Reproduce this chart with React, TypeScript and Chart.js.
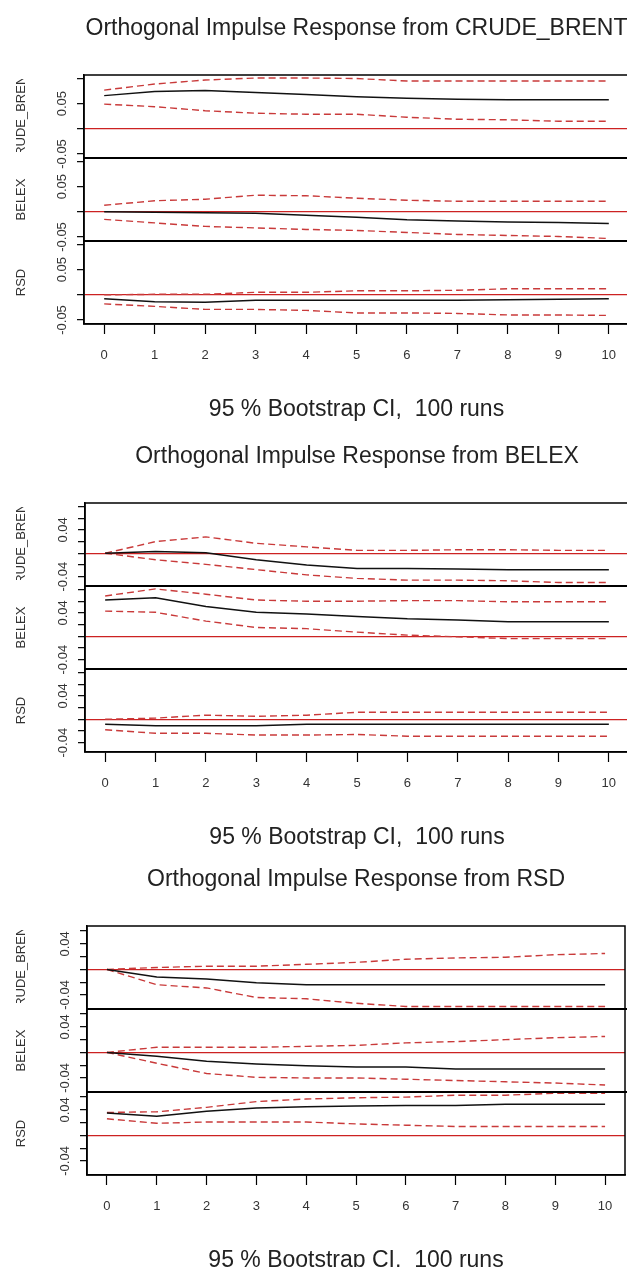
import React, { useEffect, useRef } from 'react';
import { Chart, registerables } from 'chart.js';

Chart.register(...registerables);

// ---------- data ----------
const horizons = [0, 1, 2, 3, 4, 5, 6, 7, 8, 9, 10];
const responseNames = ['CRUDE_BRENT', 'BELEX', 'RSD'];
const xTitle = '95 % Bootstrap CI,  100 runs';

// Panel 1: impulse from CRUDE_BRENT
const crudeFromCrudeIrf = [0.066, 0.074, 0.076, 0.072, 0.068, 0.064, 0.061, 0.059, 0.058, 0.058, 0.058];
const crudeFromCrudeLow = [0.049, 0.044, 0.036, 0.031, 0.029, 0.029, 0.023, 0.019, 0.018, 0.015, 0.015];
const crudeFromCrudeUp = [0.077, 0.089, 0.097, 0.101, 0.101, 0.1, 0.095, 0.095, 0.095, 0.095, 0.095];
const belexFromCrudeIrf = [0.0, -0.001, -0.002, -0.003, -0.007, -0.011, -0.016, -0.018, -0.02, -0.021, -0.023];
const belexFromCrudeLow = [-0.015, -0.022, -0.029, -0.032, -0.035, -0.037, -0.041, -0.045, -0.047, -0.049, -0.053];
const belexFromCrudeUp = [0.013, 0.022, 0.025, 0.033, 0.032, 0.027, 0.023, 0.021, 0.021, 0.021, 0.021];
const rsdFromCrudeIrf = [-0.008, -0.014, -0.015, -0.011, -0.011, -0.011, -0.011, -0.011, -0.01, -0.009, -0.008];
const rsdFromCrudeLow = [-0.018, -0.023, -0.029, -0.029, -0.031, -0.036, -0.036, -0.037, -0.04, -0.04, -0.041];
const rsdFromCrudeUp = [0.0, 0.001, 0.001, 0.005, 0.005, 0.008, 0.008, 0.009, 0.012, 0.012, 0.012];

// Panel 2: impulse from BELEX
const crudeFromBelexIrf = [0.0, 0.003, 0.001, -0.011, -0.02, -0.026, -0.026, -0.027, -0.028, -0.028, -0.028];
const crudeFromBelexLow = [0.0, -0.011, -0.019, -0.028, -0.037, -0.043, -0.046, -0.046, -0.047, -0.05, -0.05];
const crudeFromBelexUp = [0.0, 0.02, 0.028, 0.017, 0.011, 0.005, 0.005, 0.006, 0.006, 0.005, 0.005];
const belexFromBelexIrf = [0.062, 0.066, 0.051, 0.041, 0.038, 0.034, 0.03, 0.028, 0.025, 0.025, 0.025];
const belexFromBelexLow = [0.043, 0.041, 0.026, 0.015, 0.013, 0.007, 0.002, -0.001, -0.004, -0.004, -0.004];
const belexFromBelexUp = [0.069, 0.081, 0.072, 0.062, 0.06, 0.06, 0.061, 0.061, 0.059, 0.059, 0.059];
const rsdFromBelexIrf = [-0.0085, -0.011, -0.011, -0.011, -0.0085, -0.0085, -0.0085, -0.0085, -0.0085, -0.0085, -0.0085];
const rsdFromBelexLow = [-0.018, -0.024, -0.024, -0.027, -0.027, -0.026, -0.029, -0.029, -0.029, -0.029, -0.029];
const rsdFromBelexUp = [0.0, 0.002, 0.007, 0.005, 0.007, 0.012, 0.012, 0.012, 0.012, 0.012, 0.012];

// Panel 3: impulse from RSD
const crudeFromRsdIrf = [0.0, -0.012, -0.015, -0.021, -0.024, -0.024, -0.024, -0.024, -0.024, -0.024, -0.024];
const crudeFromRsdLow = [0.0, -0.024, -0.029, -0.044, -0.046, -0.053, -0.058, -0.058, -0.058, -0.058, -0.058];
const crudeFromRsdUp = [0.0, 0.003, 0.005, 0.005, 0.008, 0.011, 0.016, 0.018, 0.019, 0.023, 0.025];
const belexFromRsdIrf = [0.0, -0.006, -0.014, -0.018, -0.021, -0.023, -0.023, -0.026, -0.026, -0.026, -0.026];
const belexFromRsdLow = [0.0, -0.017, -0.033, -0.039, -0.04, -0.04, -0.042, -0.044, -0.046, -0.048, -0.051];
const belexFromRsdUp = [0.0, 0.008, 0.008, 0.008, 0.0095, 0.011, 0.015, 0.017, 0.02, 0.023, 0.025];
const rsdFromRsdIrf = [0.035, 0.03, 0.038, 0.043, 0.045, 0.046, 0.047, 0.047, 0.049, 0.049, 0.049];
const rsdFromRsdLow = [0.026, 0.019, 0.021, 0.021, 0.021, 0.018, 0.016, 0.014, 0.014, 0.014, 0.014];
const rsdFromRsdUp = [0.036, 0.037, 0.044, 0.053, 0.057, 0.059, 0.06, 0.063, 0.063, 0.066, 0.066];

// y ticks and labels
const p1YTicks = [-0.05, 0, 0.05, 0.1];
const p1YTickLabels = ['-0.05', '', '0.05', ''];
const p2YTicks = [-0.04, -0.02, 0, 0.02, 0.04, 0.06, 0.08];
const p2YTickLabels = ['-0.04', '', '', '', '0.04', '', ''];
const p3YTicks = [-0.04, -0.02, 0, 0.02, 0.04, 0.06];
const p3YTickLabels = ['-0.04', '', '', '', '0.04', ''];

// ---------- styling / layout ----------
const FONT = '"Liberation Sans", Arial, Helvetica, sans-serif';
const CW = 640;
const CH = 428;
const RED_CI = '#c93a3a';
const RED_ZERO = '#cc2222';

const panels = [
  {
    title: 'Orthogonal Impulse Response from CRUDE_BRENT',
    top: 0, left: 84, right: 629, yMin: -0.058, yMax: 0.107,
    yTicks: p1YTicks, yTickLabels: p1YTickLabels,
    series: [
      [crudeFromCrudeIrf, crudeFromCrudeLow, crudeFromCrudeUp],
      [belexFromCrudeIrf, belexFromCrudeLow, belexFromCrudeUp],
      [rsdFromCrudeIrf, rsdFromCrudeLow, rsdFromCrudeUp],
    ],
  },
  {
    title: 'Orthogonal Impulse Response from BELEX',
    top: 428, left: 85, right: 629, yMin: -0.056, yMax: 0.086,
    yTicks: p2YTicks, yTickLabels: p2YTickLabels,
    series: [
      [crudeFromBelexIrf, crudeFromBelexLow, crudeFromBelexUp],
      [belexFromBelexIrf, belexFromBelexLow, belexFromBelexUp],
      [rsdFromBelexIrf, rsdFromBelexLow, rsdFromBelexUp],
    ],
  },
  {
    title: 'Orthogonal Impulse Response from RSD',
    top: 851, left: 87, right: 625, yMin: -0.062, yMax: 0.068,
    yTicks: p3YTicks, yTickLabels: p3YTickLabels,
    series: [
      [crudeFromRsdIrf, crudeFromRsdLow, crudeFromRsdUp],
      [belexFromRsdIrf, belexFromRsdLow, belexFromRsdUp],
      [rsdFromRsdIrf, rsdFromRsdLow, rsdFromRsdUp],
    ],
  },
];

const axisIds = ['yCRUDE', 'yBELEX', 'yRSD'];

const framePlugin = {
  id: 'irfFrame',
  afterDatasetsDraw(chart: any) {
    const { ctx, chartArea } = chart;
    ctx.save();
    ctx.strokeStyle = '#000';
    ctx.lineWidth = 1.5;
    ctx.strokeRect(chartArea.left, chartArea.top, chartArea.right - chartArea.left, chartArea.bottom - chartArea.top);
    ctx.lineWidth = 2;
    for (let k = 0; k < axisIds.length - 1; k++) {
      const s = chart.scales[axisIds[k]];
      ctx.beginPath();
      ctx.moveTo(chartArea.left, s.bottom);
      ctx.lineTo(chartArea.right + 20, s.bottom);
      ctx.stroke();
    }
    axisIds.forEach((id, k) => {
      const s = chart.scales[id];
      ctx.save();
      ctx.beginPath();
      ctx.rect(0, s.top + 4, 40, s.bottom - s.top - 10);
      ctx.clip();
      ctx.translate(21, (s.top + s.bottom) / 2);
      ctx.rotate(-Math.PI / 2);
      ctx.font = '13px ' + FONT;
      ctx.textAlign = 'center';
      ctx.textBaseline = 'middle';
      ctx.fillStyle = '#333';
      ctx.fillText(responseNames[k], 0, 0);
      ctx.restore();
    });
    ctx.restore();
  },
};

function buildConfig(p: any): any {
  const datasets: any[] = [];
  p.series.forEach((trio: number[][], k: number) => {
    const [irf, low, up] = trio;
    const pts = (arr: number[]) => horizons.map((h, i) => ({ x: h, y: arr[i] }));
    datasets.push({
      label: responseNames[k] + ' irf', data: pts(irf), yAxisID: axisIds[k],
      borderColor: '#111', borderWidth: 1.5, pointRadius: 0, tension: 0, fill: false,
    });
    datasets.push({
      label: responseNames[k] + ' lower', data: pts(low), yAxisID: axisIds[k],
      borderColor: RED_CI, borderWidth: 1.4, borderDash: [7, 4], pointRadius: 0, tension: 0, fill: false,
    });
    datasets.push({
      label: responseNames[k] + ' upper', data: pts(up), yAxisID: axisIds[k],
      borderColor: RED_CI, borderWidth: 1.4, borderDash: [7, 4], pointRadius: 0, tension: 0, fill: false,
    });
  });

  const yAxis = () => ({
    type: 'linear',
    position: 'left',
    stack: 'irf',
    stackWeight: 1,
    bounds: 'data',
    min: p.yMin,
    max: p.yMax,
    afterBuildTicks: (s: any) => { s.ticks = p.yTicks.map((v: number) => ({ value: v })); },
    afterFit: (s: any) => { s.width = p.left; },
    grid: {
      drawOnChartArea: true,
      drawTicks: true,
      tickLength: 7,
      tickColor: '#000',
      tickWidth: 1.2,
      lineWidth: 1.3,
      color: (ctx: any) => (ctx.tick && Math.abs(ctx.tick.value) < 1e-9 ? RED_ZERO : 'rgba(0,0,0,0)'),
    },
    border: { display: true, color: '#000', width: 1.5 },
    ticks: {
      autoSkip: false,
      minRotation: 90,
      maxRotation: 90,
      crossAlign: 'center',
      padding: 0,
      color: '#333',
      font: { family: FONT, size: 13 },
      callback: (_v: any, i: number) => p.yTickLabels[i],
    },
  });

  return {
    type: 'line',
    data: { datasets },
    plugins: [framePlugin],
    options: {
      responsive: false,
      animation: false,
      events: [],
      layout: { padding: { left: 0, right: CW - p.right, top: 0, bottom: 0 } },
      plugins: {
        legend: { display: false },
        tooltip: { enabled: false },
        title: {
          display: true,
          text: p.title,
          fullSize: false,
          color: '#222',
          font: { family: FONT, size: 23, weight: 'normal' },
          padding: { top: 14.7, bottom: 32.7 },
        },
      },
      scales: {
        x: {
          type: 'linear',
          bounds: 'data',
          min: -0.4,
          max: 10.4,
          afterBuildTicks: (s: any) => { s.ticks = horizons.map((v) => ({ value: v })); },
          grid: { drawOnChartArea: false, drawTicks: true, tickLength: 10, tickColor: '#000', tickWidth: 1.2 },
          border: { display: true, color: '#000', width: 1.5 },
          ticks: {
            autoSkip: false, minRotation: 0, maxRotation: 0, padding: 14, color: '#333',
            font: { family: FONT, size: 13 },
            callback: (v: any) => String(v),
          },
          title: {
            display: true, text: xTitle, color: '#222',
            font: { family: FONT, size: 23 },
            padding: { top: 18.6, bottom: 4.2 },
          },
        },
        yRSD: yAxis(),
        yBELEX: yAxis(),
        yCRUDE: yAxis(),
      },
    },
  };
}

function Panel({ p }: { p: any }) {
  const ref = useRef<HTMLCanvasElement>(null);
  useEffect(() => {
    if (!ref.current) return;
    const chart = new Chart(ref.current, buildConfig(p));
    return () => chart.destroy();
  }, [p]);
  return (
    <div style={{ position: 'absolute', left: 0, top: p.top, width: CW, height: CH }}>
      <canvas ref={ref} width={CW} height={CH} style={{ width: CW, height: CH, display: 'block' }} />
    </div>
  );
}

export default function App() {
  return (
    <div style={{ position: 'absolute', left: 0, top: 0, width: 627, height: 1267, overflow: 'hidden', background: '#fff' }}>
      {panels.map((p, i) => (
        <Panel key={i} p={p} />
      ))}
    </div>
  );
}
